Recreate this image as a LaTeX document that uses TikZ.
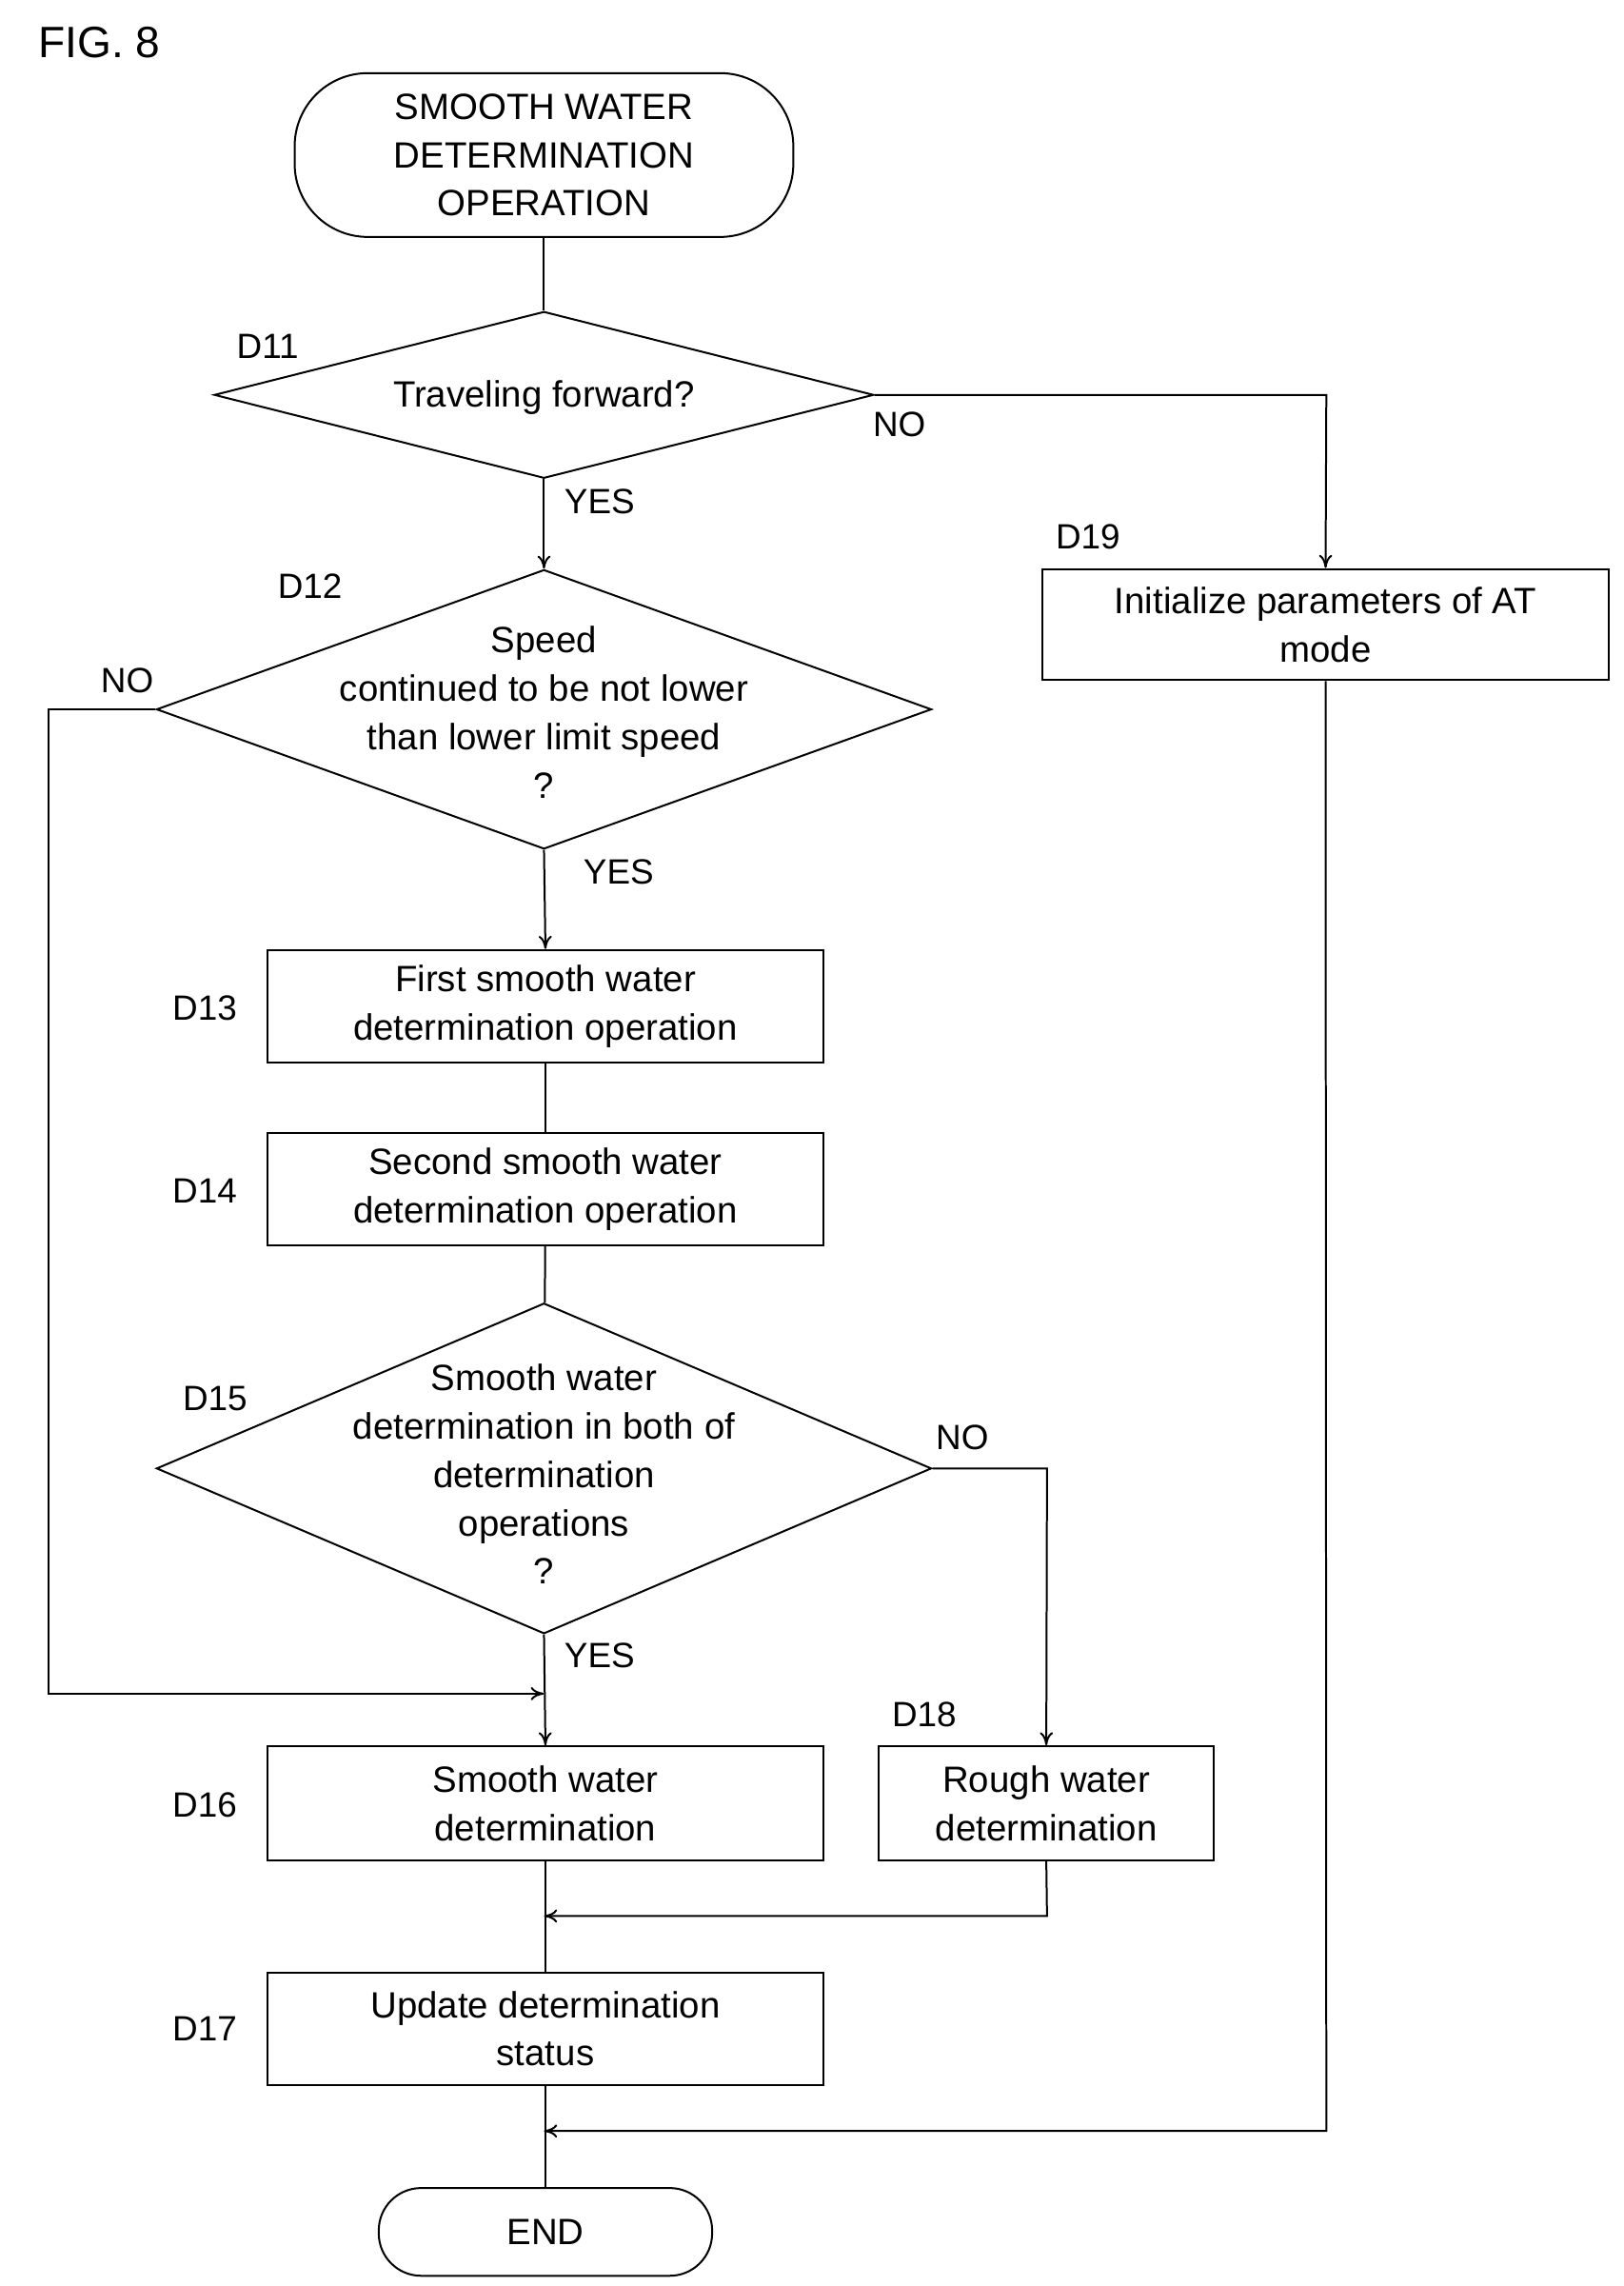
\documentclass[tikz,border=0pt]{standalone}
\usepackage{fontspec}
\setmainfont{Liberation Sans}
\usetikzlibrary{shapes.geometric,arrows.meta}
\begin{document}
\begin{tikzpicture}[x=1pt,y=-1pt,line width=1.3pt,
  every node/.style={font=\fontsize{25}{33}\selectfont},
  box/.style={draw,rectangle,inner sep=0,align=center},
  dia/.style={draw,diamond,inner sep=0},
  dtext/.style={align=center},
  term/.style={draw,rounded rectangle,inner sep=0,align=center},
  lab/.style={font=\fontsize{24}{30}\selectfont},
  arr/.style={-{To[length=9pt,width=9pt]}}]
\useasboundingbox (0,0) rectangle (1110,1563);
\tikzset{rounded rectangle/.style={rounded corners=28pt}}
\node[lab] (fig) at (68,29) {\fontsize{30}{36}\selectfont FIG. 8};
\node[draw,minimum width=341pt,minimum height=112pt,rounded corners=50pt,inner sep=0,align=center] (s) at (372,106) {SMOOTH WATER\\DETERMINATION\\OPERATION};
\node[dia,minimum width=451pt,minimum height=114pt] (d11) at (372,270) {};
\node[dtext] (t11) at (372,272) {Traveling forward?};
\node[dia,minimum width=530pt,minimum height=191pt] (d12) at (372,485) {};
\node[dtext] (t12) at (372,487) {Speed\\continued to be not lower\\than lower limit speed\\?};
\node[box,minimum width=380pt,minimum height=77pt] (d13) at (373,688) {First smooth water\\determination operation};
\node[box,minimum width=380pt,minimum height=77pt] (d14) at (373,813) {Second smooth water\\determination operation};
\node[dia,minimum width=530pt,minimum height=226pt] (d15) at (372,1004) {};
\node[dtext] (t15) at (372,1008) {Smooth water\\determination in both of\\determination\\operations\\?};
\node[box,minimum width=380pt,minimum height=78pt] (d16) at (373,1233) {Smooth water\\determination};
\node[box,minimum width=229pt,minimum height=78pt] (d18) at (715.5,1233) {Rough water\\determination};
\node[box,minimum width=380pt,minimum height=77pt] (d17) at (373,1387) {Update determination\\status};
\node[box,minimum width=387pt,minimum height=76pt] (d19) at (906.5,427) {Initialize parameters of AT\\mode};
\node[draw,minimum width=228pt,minimum height=60pt,rounded corners=29pt,inner sep=0] (e) at (373,1526) {END};
\node[lab] (l11) at (183,237) {D11};
\node[lab] (l12) at (212,401) {D12};
\node[lab] (l13) at (140,689) {D13};
\node[lab] (l14) at (140,814) {D14};
\node[lab] (l15) at (147,956) {D15};
\node[lab] (l16) at (140,1234) {D16};
\node[lab] (l17) at (140,1387) {D17};
\node[lab] (l18) at (632,1172) {D18};
\node[lab] (l19) at (744,367) {D19};
\node[lab] (n1) at (615,290) {NO};
\node[lab] (y1) at (410,343) {YES};
\node[lab] (n2) at (87,465) {NO};
\node[lab] (y2) at (423,596) {YES};
\node[lab] (n3) at (658,983) {NO};
\node[lab] (y3) at (410,1132) {YES};
\coordinate (c1) at (907,270);
\coordinate (c2) at (33,485);
\coordinate (c3) at (33,1158);
\coordinate (m1) at (372,1158);
\coordinate (c4) at (716,1004);
\coordinate (c5) at (716,1310);
\coordinate (m2) at (372,1310);
\coordinate (c6) at (907,1457);
\coordinate (m3) at (372,1457);
\draw (s) -- (d11);
\draw[arr] (d11.east) -- (c1) -- (d19.north);
\draw[arr] (d11.south) -- (d12.north);
\draw[arr] (d12.west) -- (c2) -- (c3) -- (m1);
\draw[arr] (d12.south) -- (d13.north);
\draw (d13) -- (d14);
\draw (d14) -- (d15);
\draw[arr] (d15.south) -- (d16.north);
\draw[arr] (d15.east) -- (c4) -- (d18.north);
\draw[arr] (d18.south) -- (c5) -- (m2);
\draw (d16) -- (d17);
\draw[arr] (d19.south) -- (c6) -- (m3);
\draw (d17.south) -- (e.north);
\end{tikzpicture}
\end{document}
